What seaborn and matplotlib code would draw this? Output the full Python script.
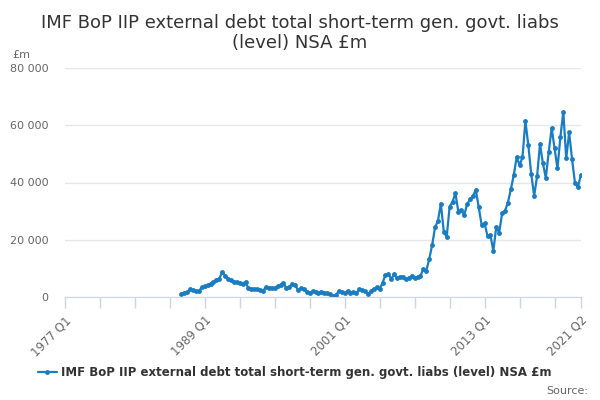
import numpy as np
import pandas as pd
import seaborn as sns
import matplotlib.pyplot as plt

# quarterly series, 1977 Q1 .. 2021 Q2 ; data starts 1987 Q1
start_year = 1977
n_quarters = 178
first_idx = 40

values = [
    1000, 1300, 1600, 2700, 2300, 2000, 2000, 3400, 3700, 4100,   # 1987 Q1 ..
    4700, 5300, 6000, 6400, 8800, 7300, 6200, 5800, 5400, 5200,
    4900, 4700, 5300, 3000, 2900, 2800, 2700, 2500, 2200, 3400,
    3200, 3300, 3000, 3800, 4300, 5000, 3000, 3600, 4400, 4200,
    2400, 3000, 2800, 1800, 1500, 2000, 1900, 1300, 1900, 1500,
    1400, 1000, 200, 700, 2100, 1600, 1300, 2100, 1500, 1800,
    1300, 2700, 2400, 2000, 900, 2000, 2800, 3400, 2700, 5000,
    7700, 8000, 6300, 8000, 6500, 7100, 7100, 6300, 6700, 7400,
    6500, 7100, 7400, 9800, 9200, 13200, 18100, 24300, 26600, 32600,
    22800, 21000, 31500, 33300, 36200, 29800, 30400, 28600, 32400, 34100,
    35300, 37400, 31300, 25100, 25700, 21300, 21600, 16100, 24500, 22400,
    29200, 30100, 33000, 37600, 42600, 48800, 46100, 48800, 61500, 53000,
    42900, 35300, 42200, 53400, 46700, 41600, 50700, 59000, 51900, 44900,
    55900, 64700, 48400, 57500, 48100, 39900, 38300, 42500,
]

series_name = "IMF BoP IIP external debt total short-term gen. govt. liabs (level) NSA £m"
title = "IMF BoP IIP external debt total short-term gen. govt. liabs\n(level) NSA £m"

labels = [f"{start_year + i // 4} Q{i % 4 + 1}" for i in range(n_quarters)]
df = pd.DataFrame({"idx": np.arange(first_idx, first_idx + len(values)),
                   "value": values})
df["series"] = series_name

sns.set_style("white")
plt.rcParams['font.family'] = ['DejaVu Sans']

blue = "#1a7dc1"
fig = plt.figure(figsize=(6, 4), dpi=100)
ax = fig.add_axes([0.108, 0.2575, 0.86, 0.5725])

sns.lineplot(data=df, x="idx", y="value", hue="series", palette=[blue],
             marker="o", markersize=3.5, markeredgewidth=0, linewidth=1.6, ax=ax)

ax.set_xlim(0, n_quarters - 1)
ax.set_ylim(0, 80000)
ax.set_yticks([0, 20000, 40000, 60000, 80000])
ax.set_yticklabels(["0", "20 000", "40 000", "60 000", "80 000"])
ax.grid(axis="y", color="#e6e6e6", linewidth=1)
ax.set_axisbelow(True)

minor = list(range(0, n_quarters, 12)) + [n_quarters - 1]
major = [0, 48, 96, 144, n_quarters - 1]
ax.set_xticks(minor, minor=True)
ax.set_xticks(major)
ax.set_xticklabels([labels[i] for i in major], rotation=45, ha="right",
                   rotation_mode="anchor")
ax.tick_params(axis="x", which="both", bottom=True, direction="out", length=8,
               color="#ccd6eb", width=1, labelsize=8.5, labelcolor="#666666", pad=4)
ax.tick_params(axis="y", length=0, labelsize=8, labelcolor="#666666", pad=12)

for s in ["top", "right", "left"]:
    ax.spines[s].set_visible(False)
ax.spines["bottom"].set_color("#ccd6eb")
ax.set_xlabel("")
ax.set_ylabel("")

fig.text(0.5, 0.965, title, ha="center", va="top", fontsize=13,
         color="#333333", linespacing=1.15)
fig.text(0.02, 0.855, "£m", fontsize=8, color="#666666")

leg = ax.legend(loc="center", bbox_to_anchor=(0.446, -0.33), frameon=False,
                fontsize=8.5, handlelength=1.6, handletextpad=0.4)
for t in leg.get_texts():
    t.set_color("#333333")
    t.set_fontweight("bold")
fig.text(0.98, 0.015, "Source:", ha="right", fontsize=8, color="#666666")

fig.savefig("out.png", dpi=100)
